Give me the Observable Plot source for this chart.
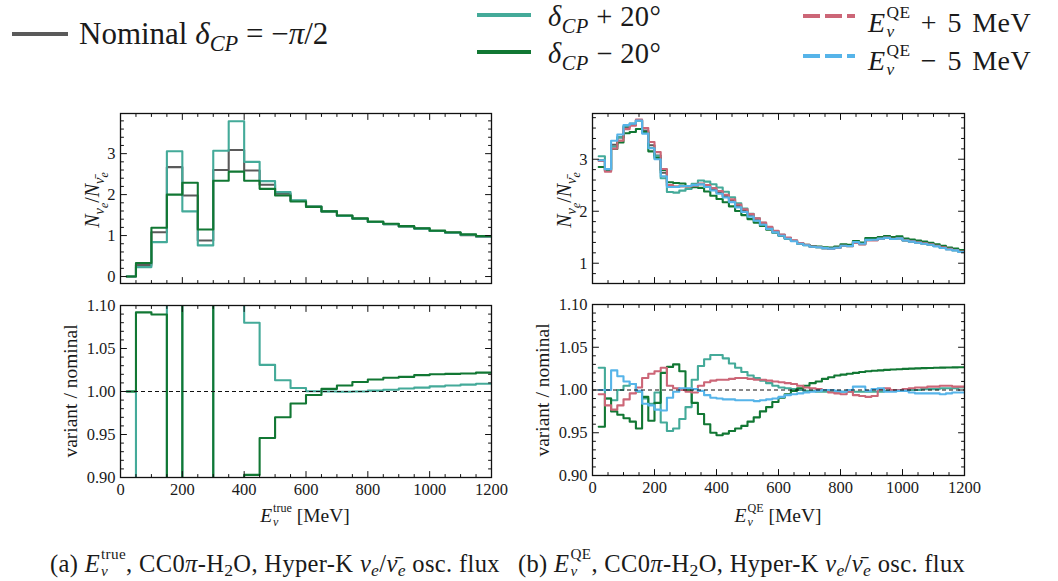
<!DOCTYPE html>
<html><head><meta charset="utf-8">
<script src="https://cdn.jsdelivr.net/npm/d3@7"></script>
<script src="https://cdn.jsdelivr.net/npm/@observablehq/plot@0.6"></script>
<style>
body{margin:0;background:#fff;}
#root{position:relative;width:1058px;height:581px;overflow:hidden;font-family:"Liberation Serif","DejaVu Serif",serif;color:#1a1a1a;background:#fff;}
.abs{position:absolute;white-space:nowrap;line-height:1;}
.rot{transform:translate(-50%,-50%) rotate(-90deg);}
.ctr{transform:translateX(-50%);}
sub,sup{font-size:72%;line-height:0;}
sub sub{font-size:82%;}
.cap sub{vertical-align:-0.22em;}
.cap .ss{vertical-align:-0.26em;}
.ss{display:inline-block;vertical-align:-0.32em;line-height:1.12;font-size:62%;margin-left:1px;}
.ss>span{display:block;}
</style></head><body><div id="root"></div>
<script>
// ---------------- data ----------------
// (a) true-energy binning, 50 MeV bins (first bin 20-50)
const leftBinStarts = [20, 50, 100, 150, 200, 250, 300, 350, 400, 450, 500, 550, 600, 650, 700, 750, 800, 850, 900, 950, 1000, 1050, 1100, 1150];
const leftBinEnd = 1200;
const leftNominal = [0.0, 0.28, 1.08, 2.67, 1.98, 0.88, 2.60, 3.09, 2.59, 2.24, 2.02, 1.85, 1.71, 1.59, 1.48, 1.41, 1.33, 1.28, 1.22, 1.17, 1.11, 1.07, 1.01, 0.97];
const leftPlus20 = [0.0, 0.23, 0.84, 3.06, 1.59, 0.76, 3.07, 3.79, 2.80, 2.33, 2.06, 1.86, 1.71, 1.59, 1.48, 1.41, 1.33, 1.28, 1.22, 1.17, 1.11, 1.07, 1.02, 0.98];
const leftMinus20 = [0.0, 0.33, 1.19, 2.00, 2.29, 1.15, 2.34, 2.56, 2.34, 2.14, 1.98, 1.83, 1.70, 1.59, 1.49, 1.42, 1.34, 1.29, 1.23, 1.18, 1.12, 1.08, 1.03, 0.99];
const leftRatioPlus20 = [1.000, 0.82, 0.78, 1.15, 0.80, 0.86, 1.18, 1.23, 1.080, 1.031, 1.013, 1.004, 1.0003, 1.000, 0.9997, 1.000, 1.001, 1.002, 1.0035, 1.0045, 1.006, 1.007, 1.008, 1.009];
const leftRatioMinus20 = [1.000, 1.092, 1.0895, 0.75, 1.16, 1.31, 0.88, 0.83, 0.903, 0.946, 0.970, 0.986, 0.996, 1.003, 1.007, 1.011, 1.014, 1.016, 1.017, 1.019, 1.020, 1.0205, 1.021, 1.022];

// (b) reconstructed-energy binning, 20 MeV bins (first bin 20-40)
const rightBinStarts = [20, 40, 60, 80, 100, 120, 140, 160, 180, 200, 220, 240, 260, 280, 300, 320, 340, 360, 380, 400,
  420, 440, 460, 480, 500, 520, 540, 560, 580, 600, 620, 640, 660, 680, 700, 720, 740, 760, 780, 800,
  820, 840, 860, 880, 900, 920, 940, 960, 980, 1000, 1020, 1040, 1060, 1080, 1100, 1120, 1140, 1160, 1180];
const rightBinEnd = 1200;
const rightNominal = [2.98, 2.81, 3.28, 3.42, 3.62, 3.66, 3.75, 3.55, 3.27, 3.07,
  2.74, 2.49, 2.47, 2.48, 2.48, 2.50, 2.52, 2.48, 2.42, 2.36,
  2.29, 2.20, 2.10, 2.01, 1.92, 1.84, 1.76, 1.68, 1.61, 1.54,
  1.48, 1.43, 1.38, 1.35, 1.32, 1.31, 1.29, 1.28, 1.30, 1.34,
  1.33, 1.40, 1.37, 1.45, 1.45, 1.47, 1.49, 1.47, 1.48, 1.44,
  1.42, 1.40, 1.38, 1.36, 1.33, 1.30, 1.27, 1.25, 1.22];
const rightRatioPlus20 = [1.026, 0.990, 0.988, 1.000, 1.005, 1.007, 0.998, 0.990, 0.984, 0.997,
  0.962, 0.952, 0.955, 0.966, 0.980, 1.012, 1.028, 1.036, 1.041, 1.041,
  1.037, 1.031, 1.026, 1.021, 1.017, 1.014, 1.011, 1.008, 1.005, 1.003,
  1.002, 1.001, 1.000, 0.999, 0.999, 0.998, 0.998, 0.998, 0.998, 0.998,
  0.998, 0.998, 0.998, 0.998, 0.998, 0.998, 0.999, 0.999, 0.999, 0.999,
  1.000, 1.000, 1.001, 1.001, 1.001, 1.002, 1.002, 1.002, 1.003];
const rightRatioMinus20 = [0.957, 0.990, 0.975, 0.971, 0.967, 0.963, 0.955, 0.992, 0.964, 0.985,
  1.020, 1.027, 1.030, 1.022, 1.000, 0.985, 0.972, 0.960, 0.950, 0.947,
  0.949, 0.952, 0.955, 0.958, 0.963, 0.968, 0.975, 0.980, 0.986, 0.991,
  0.995, 0.999, 1.002, 1.005, 1.008, 1.010, 1.013, 1.015, 1.017, 1.018,
  1.019, 1.020, 1.021, 1.022, 1.0225, 1.023, 1.0235, 1.024, 1.0243, 1.0247,
  1.025, 1.0253, 1.0256, 1.0258, 1.026, 1.0262, 1.0263, 1.0265, 1.0266];
const rightRatioEPlus5 = [0.995, 0.982, 0.977, 0.982, 0.989, 0.996, 1.003, 1.014, 1.019, 1.022,
  1.026, 1.005, 1.002, 1.000, 0.998, 0.997, 1.005, 1.009, 1.011, 1.012,
  1.012, 1.013, 1.014, 1.014, 1.013, 1.012, 1.012, 1.011, 1.010, 1.009,
  1.008, 1.007, 1.005, 1.003, 1.002, 1.001, 1.000, 0.997, 0.996, 0.995,
  0.998, 0.994, 0.993, 0.992, 0.993, 1.001, 1.002, 1.000, 1.000, 1.001,
  1.002, 1.003, 1.003, 1.004, 1.004, 1.005, 1.005, 1.004, 1.004];
const rightRatioEMinus5 = [1.000, 1.000, 1.023, 1.016, 1.010, 1.007, 0.999, 0.984, 0.982, 0.977,
  0.976, 0.991, 0.998, 1.002, 1.002, 1.001, 0.999, 0.994, 0.991, 0.990,
  0.989, 0.989, 0.988, 0.988, 0.988, 0.987, 0.988, 0.989, 0.990, 0.992,
  0.994, 0.995, 0.996, 0.997, 0.998, 0.999, 1.000, 1.000, 0.999, 0.998,
  1.000, 1.004, 1.004, 0.999, 1.001, 1.002, 0.998, 0.998, 0.999, 0.999,
  0.997, 0.996, 0.996, 0.996, 0.996, 0.995, 0.996, 0.997, 0.997];

// ticks
const xTickLabels = [0, 200, 400, 600, 800, 1000, 1200];
const xMinorTicks = [50, 100, 150, 250, 300, 350, 450, 500, 550, 650, 700, 750, 850, 900, 950, 1050, 1100, 1150];
const yTickLabelsTL = [0, 1, 2, 3];
const yMinorTL = [0.2, 0.4, 0.6, 0.8, 1.2, 1.4, 1.6, 1.8, 2.2, 2.4, 2.6, 2.8, 3.2, 3.4, 3.6, 3.8];
const yTickLabelsTR = [1, 2, 3];
const yMinorTR = [0.8, 1.2, 1.4, 1.6, 1.8, 2.2, 2.4, 2.6, 2.8, 3.2, 3.4, 3.6, 3.8];
const yTickLabelsRatio = [0.90, 0.95, 1.00, 1.05, 1.10];
const yMinorRatio = [0.91, 0.92, 0.93, 0.94, 0.96, 0.97, 0.98, 0.99, 1.01, 1.02, 1.03, 1.04, 1.06, 1.07, 1.08, 1.09];

// ---------------- styles ----------------
const C = {nominal: "#5a5a5a", plus: "#44AA99", minus: "#117733", eUp: "#CC6677", eDown: "#56B4E9"};
const FONT = "'Liberation Serif','DejaVu Serif',serif";
const root = document.getElementById("root");

function steps(starts, end, values) {
  const rows = starts.map((x, i) => ({x, y: values[i]}));
  rows.push({x: end, y: values[values.length - 1]});
  return rows;
}
const tickShape = {draw(ctx, l) { ctx.moveTo(0, 0); ctx.lineTo(0, -l); }};
function tickMarks(values, side, len) {
  const rot = {bottom: 0, top: 180, left: 90, right: -90}[side];
  const ch = (side === "bottom" || side === "top") ? {x: d => d} : {y: d => d};
  return Plot.vector(values, {...ch, frameAnchor: side, length: len, rotate: rot, anchor: "start",
    shape: tickShape, stroke: "#111", strokeWidth: 1});
}

function panel({frame: [fl, ft, fw, fh], yDomain, yMajor, yMinor, yFormat, xLabels, lines, ref}) {
  const mL = 50, mR = 14, mT = 10, mB = 32;
  const marks = [];
  for (const s of lines) {
    marks.push(Plot.line(s.data, {x: "x", y: "y", curve: "step-after", stroke: s.color, strokeWidth: 2.1, clip: true}));
  }
  if (ref) marks.push(Plot.ruleY([1], {stroke: "#111", strokeWidth: 1, strokeDasharray: "4,3"}));
  for (const side of ["bottom", "top"]) {
    marks.push(tickMarks(xTickLabels, side, 6));
    marks.push(tickMarks(xMinorTicks, side, 3));
  }
  for (const side of ["left", "right"]) {
    marks.push(tickMarks(yMajor, side, 6));
    marks.push(tickMarks(yMinor, side, 3));
  }
  marks.push(Plot.frame({stroke: "#111", strokeWidth: 1.3}));
  marks.push(Plot.axisY({ticks: yMajor, tickSize: 0, tickPadding: 5, tickFormat: yFormat, fontSize: 16.5, label: null, anchor: "left", fontFamily: FONT}));
  if (xLabels) marks.push(Plot.axisX({ticks: xTickLabels, tickSize: 0, tickPadding: 6, fontSize: 16.5, label: null, anchor: "bottom", fontFamily: FONT, tickFormat: d => String(d)}));
  const svg = Plot.plot({
    width: fw + mL + mR, height: fh + mT + mB,
    marginLeft: mL, marginRight: mR, marginTop: mT, marginBottom: mB,
    x: {domain: [0, 1200], axis: null},
    y: {domain: yDomain, axis: null},
    style: {fontFamily: FONT, fontSize: "16.5px", background: "transparent", color: "#1a1a1a", overflow: "visible"},
    marks
  });
  svg.style.position = "absolute";
  svg.style.left = (fl - mL) + "px";
  svg.style.top = (ft - mT) + "px";
  root.appendChild(svg);
}

const int = d => String(d);
const two = d => d.toFixed(2);

// (a) top
panel({frame: [120, 113, 371, 170], yDomain: [-0.17, 3.98], yMajor: yTickLabelsTL, yMinor: yMinorTL, yFormat: int, xLabels: false,
  lines: [
    {data: steps(leftBinStarts, leftBinEnd, leftNominal), color: C.nominal},
    {data: steps(leftBinStarts, leftBinEnd, leftPlus20), color: C.plus},
    {data: steps(leftBinStarts, leftBinEnd, leftMinus20), color: C.minus}
  ]});
// (a) bottom
panel({frame: [120, 305, 371, 172], yDomain: [0.9, 1.1], yMajor: yTickLabelsRatio, yMinor: yMinorRatio, yFormat: two, xLabels: true, ref: true,
  lines: [
    {data: steps(leftBinStarts, leftBinEnd, leftRatioPlus20), color: C.plus},
    {data: steps(leftBinStarts, leftBinEnd, leftRatioMinus20), color: C.minus}
  ]});
// (b) top: variant spectra = nominal x (variant/nominal)
const rightSpectrum = ratio => rightNominal.map((v, i) => v * ratio[i]);
panel({frame: [592, 113, 372, 170], yDomain: [0.61, 3.88], yMajor: yTickLabelsTR, yMinor: yMinorTR, yFormat: int, xLabels: false,
  lines: [
    {data: steps(rightBinStarts, rightBinEnd, rightNominal), color: C.nominal},
    {data: steps(rightBinStarts, rightBinEnd, rightSpectrum(rightRatioPlus20)), color: C.plus},
    {data: steps(rightBinStarts, rightBinEnd, rightSpectrum(rightRatioMinus20)), color: C.minus},
    {data: steps(rightBinStarts, rightBinEnd, rightSpectrum(rightRatioEPlus5)), color: C.eUp},
    {data: steps(rightBinStarts, rightBinEnd, rightSpectrum(rightRatioEMinus5)), color: C.eDown}
  ]});
// (b) bottom
panel({frame: [592, 304, 372, 171], yDomain: [0.9, 1.1], yMajor: yTickLabelsRatio, yMinor: yMinorRatio, yFormat: two, xLabels: true, ref: true,
  lines: [
    {data: steps(rightBinStarts, rightBinEnd, rightRatioPlus20), color: C.plus},
    {data: steps(rightBinStarts, rightBinEnd, rightRatioMinus20), color: C.minus},
    {data: steps(rightBinStarts, rightBinEnd, rightRatioEPlus5), color: C.eUp},
    {data: steps(rightBinStarts, rightBinEnd, rightRatioEMinus5), color: C.eDown}
  ]});

// ---------------- legend & labels ----------------
const ns = "http://www.w3.org/2000/svg";
const lg = document.createElementNS(ns, "svg");
lg.setAttribute("width", 1058); lg.setAttribute("height", 80);
lg.style.position = "absolute"; lg.style.left = "0px"; lg.style.top = "0px";
const legendLines = [
  {x1: 12, x2: 68, y: 34, c: C.nominal, dash: null},
  {x1: 477, x2: 531, y: 15, c: C.plus, dash: null},
  {x1: 477, x2: 531, y: 52, c: C.minus, dash: null},
  {x1: 803, x2: 855, y: 16, c: C.eUp, dash: "17,5"},
  {x1: 803, x2: 855, y: 56, c: C.eDown, dash: "17,5"}
];
for (const l of legendLines) {
  const e = document.createElementNS(ns, "line");
  e.setAttribute("x1", l.x1); e.setAttribute("x2", l.x2); e.setAttribute("y1", l.y); e.setAttribute("y2", l.y);
  e.setAttribute("stroke", l.c); e.setAttribute("stroke-width", 4);
  if (l.dash) e.setAttribute("stroke-dasharray", l.dash);
  lg.appendChild(e);
}
root.appendChild(lg);

function text(html, css, cls = "abs") {
  const d = document.createElement("div");
  d.className = cls; d.innerHTML = html;
  Object.assign(d.style, css);
  root.appendChild(d);
  return d;
}
const Enu = sup => `<i>E</i><span class="ss"><span>${sup}</span><span><i>ν</i></span></span>`;
const dCP = `<i>δ</i><sub><i>CP</i></sub>`;
const ratioLabel = `<i>N</i><sub><i>ν</i><sub><i>e</i></sub></sub>/<i>N</i><sub><i>ν̄</i><sub><i>e</i></sub></sub>`;

// baselines: top = baseline - 0.837*fontSize
text(`Nominal ${dCP} = −<i>π</i>/2`, {left: "79px", top: "18px", fontSize: "31px"});
text(`${dCP} + 20°`, {left: "548px", top: "3px", fontSize: "28.5px", letterSpacing: "0.4px"});
text(`${dCP} − 20°`, {left: "548px", top: "39.5px", fontSize: "28.5px", letterSpacing: "0.4px"});
text(`${Enu("QE")} + 5 MeV`, {left: "868px", top: "3px", fontSize: "28px", wordSpacing: "3px", letterSpacing: "0.4px"});
text(`${Enu("QE")} − 5 MeV`, {left: "868px", top: "41px", fontSize: "28px", wordSpacing: "3px", letterSpacing: "0.4px"});

text(ratioLabel, {left: "93px", top: "200px", fontSize: "20px"}, "abs rot");
text(ratioLabel, {left: "565px", top: "200px", fontSize: "20px"}, "abs rot");
text("variant / nominal", {left: "71px", top: "391px", fontSize: "19.5px"}, "abs rot");
text("variant / nominal", {left: "543px", top: "390px", fontSize: "19.5px"}, "abs rot");
text(`${Enu("true")} [MeV]`, {left: "305px", top: "502px", fontSize: "19.5px"}, "abs ctr");
text(`${Enu("QE")} [MeV]`, {left: "778px", top: "502px", fontSize: "19.5px"}, "abs ctr");

const cap = sup => `${Enu(sup)}, CC0<i>π</i>-H<sub>2</sub>O, Hyper-K <i>ν<sub>e</sub></i>/<i>ν̄<sub>e</sub></i> osc. flux`;
text(`(a) ${cap("true")}`, {left: "50px", top: "545px", fontSize: "24.5px", letterSpacing: "0.35px"}, "abs cap");
text(`(b) ${cap("QE")}`, {left: "518px", top: "545px", fontSize: "24.5px", letterSpacing: "0.35px"}, "abs cap");
</script></body></html>
